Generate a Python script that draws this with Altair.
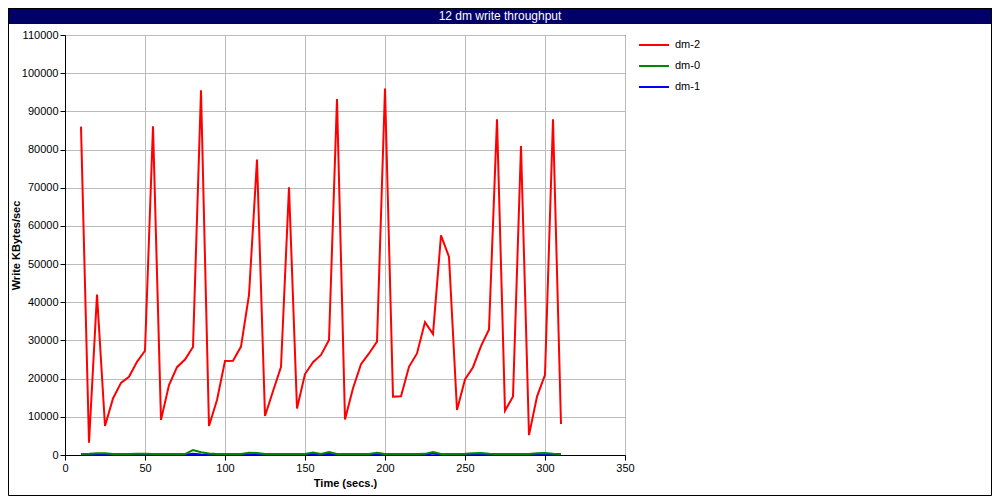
import altair as alt
import pandas as pd

times = list(range(10, 315, 5))

dm2 = [86000, 3200, 42000, 7600, 14800, 18900, 20500, 24400, 27300, 86100,
       9200, 18300, 23000, 25000, 28300, 95500, 7600, 14400, 24600, 24700,
       28400, 41900, 77400, 10200, 16700, 23100, 70100, 12200, 21200, 24300,
       26200, 30100, 93200, 9300, 17500, 23800, 26600, 29700, 96000, 15300,
       15400, 23100, 26600, 34800, 31700, 57500, 51900, 11800, 19800, 23000,
       28500, 32900, 87900, 11600, 15300, 80900, 5200, 15300, 21000, 87900,
       8100]

dm0 = [250, 300, 450, 450, 250, 250, 250, 350, 300, 250,
       250, 250, 250, 250, 1300, 700, 400, 250, 250, 250,
       250, 600, 550, 250, 250, 250, 250, 250, 250, 650,
       250, 800, 250, 250, 250, 250, 250, 600, 250, 250,
       250, 250, 250, 300, 800, 250, 250, 250, 300, 450,
       500, 300, 250, 250, 250, 250, 250, 450, 500, 300,
       250]

dm1 = [50, 50, 100, 100, 50, 50, 50, 50, 50, 50,
       50, 50, 50, 50, 300, 150, 50, 50, 50, 50,
       50, 300, 200, 50, 50, 50, 50, 50, 50, 300,
       50, 300, 50, 50, 50, 50, 50, 200, 50, 50,
       50, 50, 50, 50, 400, 50, 50, 50, 50, 100,
       100, 50, 50, 50, 50, 50, 50, 100, 100, 50,
       50]

series_names = ["dm-2", "dm-0", "dm-1"]
series_colors = ["#ff0000", "#008800", "#0000ff"]
title_text = "12 dm write throughput"

frames = []
for name, vals in zip(series_names, [dm2, dm0, dm1]):
    frames.append(pd.DataFrame({"t": times, "v": vals, "series": name}))
df = pd.concat(frames, ignore_index=True)

PW, PH = 560, 420
PAD_L, PAD_T, PAD_R, PAD_B = 57, 27, 367, 41
FONT = "Liberation Sans"

color = alt.Color(
    "series:N",
    scale=alt.Scale(domain=series_names, range=series_colors),
    legend=alt.Legend(
        title=None, orient="none", legendX=573, legendY=-6,
        symbolType="stroke", symbolSize=900, symbolStrokeWidth=2,
        labelFontSize=11, labelFont=FONT, rowPadding=-13, labelOffset=5,
        labelColor="black",
    ),
)

x = alt.X(
    "t:Q",
    scale=alt.Scale(domain=[0, 350], nice=False),
    axis=alt.Axis(values=list(range(0, 351, 50)), title="Time (secs.)",
                  labelFlush=False, titleY=28, titleBaseline="middle"),
)
y = alt.Y(
    "v:Q",
    scale=alt.Scale(domain=[0, 110000], nice=False),
    axis=alt.Axis(values=list(range(0, 110001, 10000)), format="d",
                  labelFlush=False,
                  title="Write KBytes/sec", titleX=-49, titleY=PH / 2,
                  titleAngle=-90, titleAlign="center", titleBaseline="middle"),
)

def line(name):
    return alt.Chart(df[df.series == name]).mark_line(strokeWidth=2).encode(
        x=x, y=y, color=color
    )

frame_df = pd.DataFrame({"label": [title_text]})

bar = alt.Chart(frame_df).mark_rect(color="#000066").encode(
    x=alt.value(-PAD_L), x2=alt.value(PW + PAD_R),
    y=alt.value(-PAD_T), y2=alt.value(-PAD_T + 16),
)
bar_text = alt.Chart(frame_df).mark_text(
    color="white", font=FONT, fontSize=12, baseline="middle", align="center"
).encode(
    text="label:N",
    x=alt.value((PW + PAD_R - PAD_L) / 2),
    y=alt.value(-PAD_T + 8),
)
outer = alt.Chart(frame_df).mark_rect(fill=None, stroke="black", strokeWidth=1).encode(
    x=alt.value(-PAD_L + 0.5), x2=alt.value(PW + PAD_R - 0.5),
    y=alt.value(-PAD_T + 0.5), y2=alt.value(PH + PAD_B - 0.5),
)

chart = alt.layer(
    bar, bar_text, outer, line("dm-2"), line("dm-1"), line("dm-0")
).properties(
    width=PW, height=PH,
    padding={"left": PAD_L, "top": PAD_T, "right": PAD_R, "bottom": PAD_B},
    autosize=alt.AutoSizeParams(type="none"),
    background="white",
).configure_view(
    stroke="black", strokeWidth=1
).configure_axis(
    domainColor="black", tickColor="black", tickSize=5,
    labelColor="black", labelFont=FONT, labelFontSize=11,
    titleFont=FONT, titleFontSize=11, titleFontWeight="bold", titleColor="black",
    gridColor="#bbbbbb", gridWidth=1, gridOpacity=1,
)

chart.save("out.html", embed_options={"renderer": "svg", "actions": False})
